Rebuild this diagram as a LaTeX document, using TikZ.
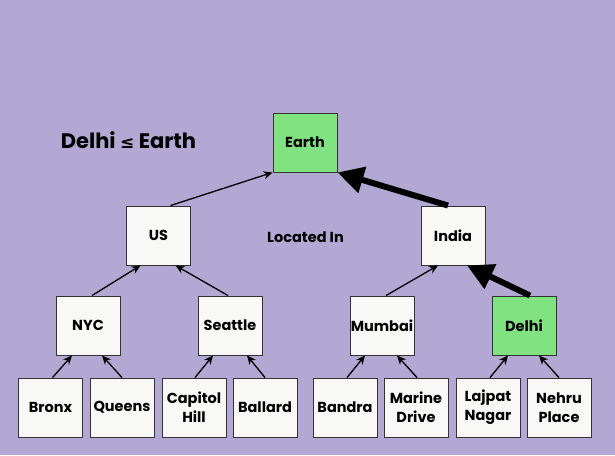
\documentclass[tikz,border=0pt]{standalone}
\usepackage{fontspec}
\setmainfont{Poppins}
\newfontfamily\symfont{DejaVu Sans}
\usetikzlibrary{arrows.meta}
\definecolor{bgcol}{RGB}{179,167,212}
\definecolor{greencol}{RGB}{128,226,128}
\definecolor{boxcol}{RGB}{248,248,246}
\definecolor{edgecol}{RGB}{50,50,50}
\begin{document}
\begin{tikzpicture}[x=1pt,y=-1pt,
  place/.style={draw=edgecol,line width=0.9pt,fill=boxcol,minimum width=64pt,minimum height=59pt,inner sep=0pt,align=center,font=\fontsize{14.5}{19}\selectfont\bfseries},
  hot/.style={place,fill=greencol},
  arr/.style={draw=black,line width=1.3pt,-{Stealth[length=9pt,width=8pt]}},
  bigarr/.style={draw=black,line width=6pt,-{Triangle[length=26pt,width=26pt]}}]
\useasboundingbox (0,0) rectangle (615,455);
\fill[bgcol] (0,0) rectangle (615,455);
\node[hot] (earth) at (305,142.5) {Earth};
\node[place] (us) at (158.5,235.5) {US};
\node[place] (india) at (453,235.5) {India};
\node[place] (nyc) at (88,325.5) {NYC};
\node[place] (seattle) at (230,325.5) {Seattle};
\node[place] (mumbai) at (382,325.5) {Mumbai};
\node[hot] (delhi) at (524,325.5) {Delhi};
\node[place] (bronx) at (50.5,407.5) {Bronx};
\node[place] (queens) at (122,407.5) {Queens};
\node[place] (capitol) at (194,407.5) {Capitol\\Hill};
\node[place] (ballard) at (265,407.5) {Ballard};
\node[place] (bandra) at (345,407.5) {Bandra};
\node[place] (marine) at (416,407.5) {Marine\\Drive};
\node[place] (lajpat) at (488,407.5) {Lajpat\\Nagar};
\node[place] (nehru) at (559,407.5) {Nehru\\Place};
\node[font=\fontsize{21}{24}\selectfont\bfseries] (title) at (128.5,140) {Delhi {\symfont\fontsize{17}{20}\selectfont ≤} Earth};
\node[font=\fontsize{14.5}{17}\selectfont\bfseries] (loc) at (305.5,237) {Located In};
% level 1
\draw[arr] ([xshift=12pt]us.north) -- (earth.south west);
\draw[bigarr] ([xshift=-5pt]india.north) -- (earth.south east);
% level 2
\draw[arr] ([xshift=4pt]nyc.north) -- ([xshift=-18pt]us.south);
\draw[arr] ([xshift=-2pt]seattle.north) -- ([xshift=17pt]us.south);
\draw[arr] ([xshift=4pt]mumbai.north) -- ([xshift=-15pt]india.south);
\draw[bigarr] ([xshift=6pt]delhi.north) -- ([xshift=14pt]india.south);
% level 3
\draw[arr] ([xshift=2pt]bronx.north) -- ([xshift=-16pt]nyc.south);
\draw[arr] ([xshift=0pt]queens.north) -- ([xshift=14pt]nyc.south);
\draw[arr] ([xshift=1pt]capitol.north) -- ([xshift=-17pt]seattle.south);
\draw[arr] ([xshift=0pt]ballard.north) -- ([xshift=17pt]seattle.south);
\draw[arr] ([xshift=2pt]bandra.north) -- ([xshift=-17pt]mumbai.south);
\draw[arr] ([xshift=1pt]marine.north) -- ([xshift=15pt]mumbai.south);
\draw[arr] ([xshift=2pt]lajpat.north) -- ([xshift=-16pt]delhi.south);
\draw[arr] ([xshift=0pt]nehru.north) -- ([xshift=15pt]delhi.south);
\end{tikzpicture}
\end{document}
